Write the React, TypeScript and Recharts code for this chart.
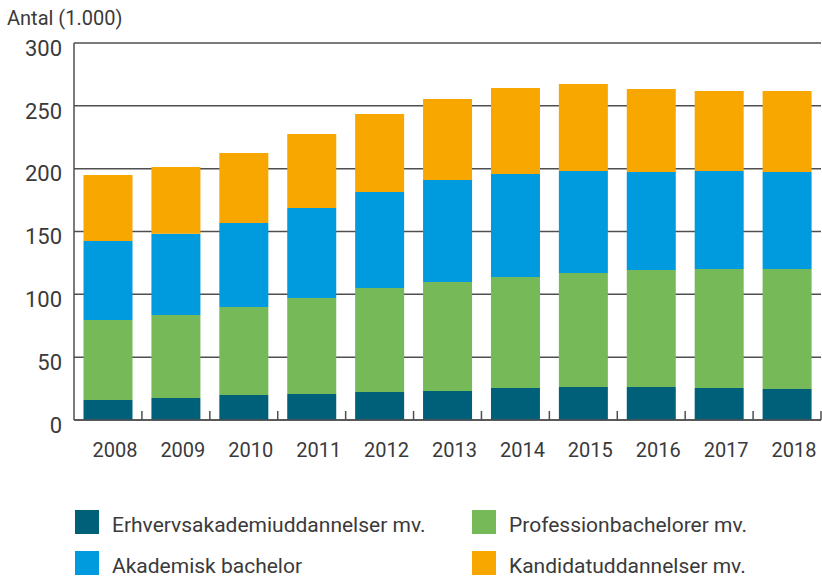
import React from 'react';
import { BarChart, Bar, XAxis, YAxis, CartesianGrid } from 'recharts';

const years = ['2008', '2009', '2010', '2011', '2012', '2013', '2014', '2015', '2016', '2017', '2018'];
const erhvervsakademi = [16, 17.5, 19.9, 20.7, 22.3, 23.1, 25.5, 26.3, 26.3, 25.5, 24.7];
const professionsbachelor = [63.6, 66.1, 70, 76.4, 82.7, 86.7, 88.3, 90.7, 93.1, 94.7, 95.5];
const akademiskBachelor = [62.8, 64.7, 66.9, 71.6, 76.4, 81.2, 81.9, 81.1, 77.9, 77.9, 77.1];
const kandidat = [52.6, 53, 55.7, 58.9, 62.1, 64.4, 68.5, 69.3, 66.1, 63.7, 64.5];
const yTicks = [0, 50, 100, 150, 200, 250, 300];

const series = [
  { key: 'erhverv', name: 'Erhvervsakademiuddannelser mv.', color: '#00607a', values: erhvervsakademi },
  { key: 'profession', name: 'Professionbachelorer mv.', color: '#75b959', values: professionsbachelor },
  { key: 'akademisk', name: 'Akademisk bachelor', color: '#009adf', values: akademiskBachelor },
  { key: 'kandidat', name: 'Kandidatuddannelser mv.', color: '#f7a700', values: kandidat },
];

// legend order in the picture: two columns, two rows
const legendOrder = ['erhverv', 'profession', 'akademisk', 'kandidat'];

const data = years.map((year, i) => {
  const row: Record<string, string | number> = { year };
  series.forEach((s) => {
    row[s.key] = s.values[i];
  });
  return row;
});

const WIDTH = 822;
const HEIGHT = 500;
const PLOT_LEFT = 74;
const PLOT_RIGHT = 1;
const FONT = 'Roboto, "Noto Sans", sans-serif';
const TEXT = '#3a3a3a';
const LINE = '#4f4f4f';

const halfBand = (WIDTH - PLOT_LEFT - PLOT_RIGHT) / years.length / 2;

function YearTick(props: any) {
  const { x, y, payload } = props;
  return (
    <g>
      <line x1={x + halfBand} x2={x + halfBand} y1={y - 9} y2={y} stroke={LINE} strokeWidth={1.5} />
      <text x={x + 7} y={y + 37} textAnchor="middle" fill={TEXT} fontSize={20} fontFamily={FONT}>
        {payload.value}
      </text>
    </g>
  );
}

export default function App() {
  return (
    <div style={{ position: 'absolute', left: 0, top: 0, width: 822, height: 577, background: '#fff', fontFamily: FONT }}>
      <div style={{ position: 'absolute', left: 7, top: 8, fontSize: 20, lineHeight: 1, color: TEXT }}>
        Antal (1.000)
      </div>

      <BarChart
        width={WIDTH}
        height={HEIGHT}
        data={data}
        margin={{ top: 43, right: PLOT_RIGHT, bottom: 30, left: 0 }}
        barCategoryGap="14%"
      >
        <CartesianGrid vertical={false} stroke={LINE} strokeWidth={1.5} />
        <XAxis
          dataKey="year"
          height={50}
          tickSize={0}
          tickMargin={0}
          tickLine={false}
          axisLine={{ stroke: LINE, strokeWidth: 1.5 }}
          tick={<YearTick />}
          interval={0}
        />
        <YAxis
          width={74}
          domain={[0, 300]}
          ticks={yTicks}
          tickSize={0}
          tickMargin={12}
          tickLine={false}
          axisLine={{ stroke: LINE, strokeWidth: 1.5 }}
          tick={{ fill: TEXT, fontSize: 22, fontFamily: FONT, dy: 5 }}
        />
        {series.map((s) => (
          <Bar key={s.key} dataKey={s.key} name={s.name} stackId="a" fill={s.color} isAnimationActive={false} />
        ))}
      </BarChart>

      {legendOrder.map((key, i) => {
        const s = series.find((d) => d.key === key)!;
        const col = i % 2;
        const row = Math.floor(i / 2);
        const left = col === 0 ? 75 : 472;
        const top = row === 0 ? 510 : 551;
        return (
          <div key={key} style={{ position: 'absolute', left, top, height: 24 }}>
            <div style={{ position: 'absolute', left: 0, top: 0, width: 24, height: 24, background: s.color }} />
            <div
              style={{
                position: 'absolute',
                left: 37,
                top: 5,
                fontSize: 21,
                lineHeight: '20px',
                color: TEXT,
                whiteSpace: 'nowrap',
              }}
            >
              {s.name}
            </div>
          </div>
        );
      })}
    </div>
  );
}
